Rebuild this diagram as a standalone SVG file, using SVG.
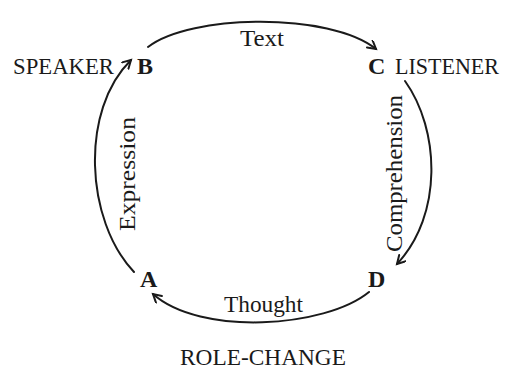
<svg xmlns="http://www.w3.org/2000/svg" width="512" height="369" viewBox="0 0 512 369">
<style>
.t{font-family:"Liberation Serif","Times New Roman",serif;font-size:24px;fill:#1a1a1a}
.b{font-weight:bold}
.c{fill:none;stroke:#1a1a1a;stroke-width:2;stroke-linecap:round}
</style>
<defs>
<marker id="ar" markerWidth="12" markerHeight="12" refX="9" refY="5" orient="auto" markerUnits="userSpaceOnUse">
<path d="M1,0.5 L9,5 L1,9.5" fill="none" stroke="#1a1a1a" stroke-width="2" stroke-linecap="round" stroke-linejoin="miter"/>
</marker>
</defs>
<rect width="512" height="369" fill="#ffffff"/>
<g id="connectors">
<path id="e-text" class="c" d="M148,47 C190,14 330,12 376,49" marker-end="url(#ar)"/>
<path id="e-comprehension" class="c" d="M405,81 C440,130 443,215 397,264" marker-end="url(#ar)"/>
<path id="e-thought" class="c" d="M369,292 C325,328 200,336 153,294" marker-end="url(#ar)"/>
<path id="e-expression" class="c" d="M134,272 C85,220 80,110 131,60" marker-end="url(#ar)"/>
<text class="t" x="240" y="46" textLength="44" lengthAdjust="spacingAndGlyphs">Text</text>
<text class="t" x="224" y="312" textLength="79" lengthAdjust="spacingAndGlyphs">Thought</text>
<text class="t" transform="translate(135,231) rotate(-90)" textLength="114" lengthAdjust="spacingAndGlyphs">Expression</text>
<text class="t" transform="translate(402,252) rotate(-90)" textLength="157" lengthAdjust="spacingAndGlyphs">Comprehension</text>
</g>
<g id="node-B">
<text class="t" x="13" y="74" textLength="101" lengthAdjust="spacingAndGlyphs">SPEAKER</text>
<text class="t b" x="137" y="74">B</text>
</g>
<g id="node-C">
<text class="t b" x="368" y="74">C</text>
<text class="t" x="395" y="74" textLength="104" lengthAdjust="spacingAndGlyphs">LISTENER</text>
</g>
<g id="node-A">
<text class="t b" x="140" y="287">A</text>
</g>
<g id="node-D">
<text class="t b" x="368" y="287">D</text>
</g>
<g id="label-role">
<text class="t" x="180" y="365" textLength="166" lengthAdjust="spacingAndGlyphs">ROLE-CHANGE</text>
</g>
</svg>
